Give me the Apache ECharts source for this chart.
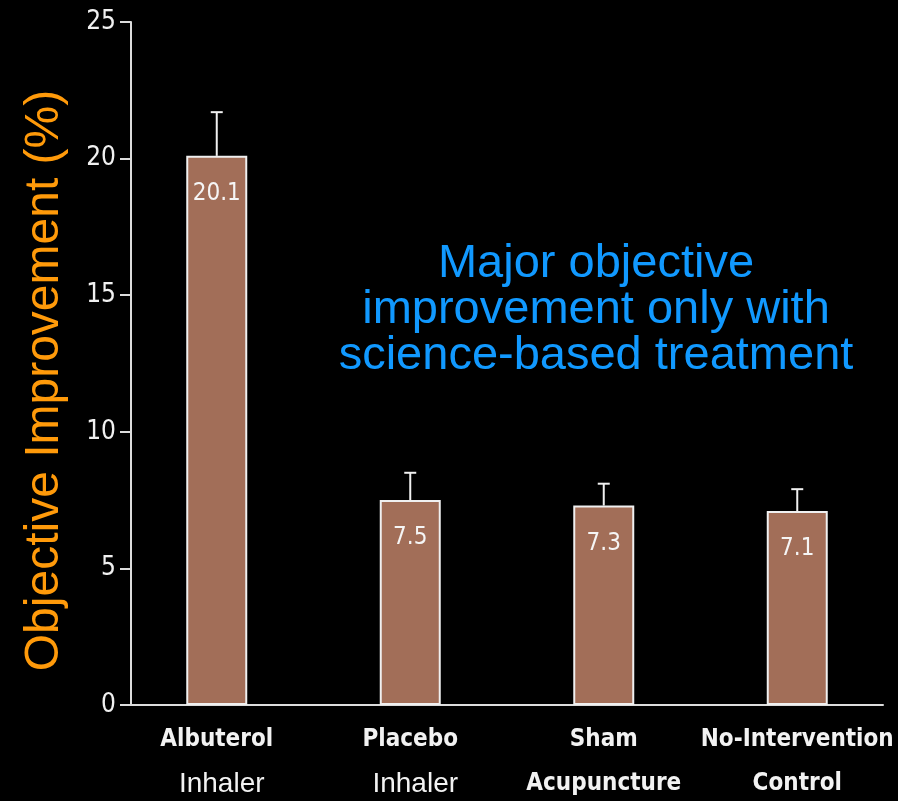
<!DOCTYPE html>
<html>
<head>
<meta charset="utf-8">
<script src="https://cdn.jsdelivr.net/npm/echarts@6/dist/echarts.min.js"></script>
<style>
html,body{margin:0;padding:0;background:#000;}
#chart{width:898px;height:801px;}
</style>
</head>
<body>
<div id="chart"></div>
<script>
// Data
const categoryLine1 = ['Albuterol', 'Placebo', 'Sham', 'No-Intervention'];
const categoryLine2 = ['Inhaler', 'Inhaler', 'Acupuncture', 'Control'];
const line2Style = ['plain', 'plain', 'cond', 'cond'];
const improvement = [20.1, 7.5, 7.3, 7.1];
const errorHigh = [21.7, 8.5, 8.1, 7.9];
const yTicks = [0, 5, 10, 15, 20, 25];

const COND = "'Liberation Sans Narrow', 'DejaVu Sans Condensed', 'Arial Narrow', sans-serif";
const PLAIN = "'Liberation Sans', Arial, sans-serif";

const chart = echarts.init(document.getElementById('chart'));
const categories = categoryLine1.map((c, i) => c + '|' + categoryLine2[i] + '|' + line2Style[i]);

const option = {
  backgroundColor: '#000',
  animation: false,
  grid: [
    { left: 120, right: 4, top: 22, bottom: 96 },
    { left: 131, right: 15, top: 22, bottom: 96 }
  ],
  xAxis: [
    {
      type: 'category', gridIndex: 0, data: categories,
      axisLine: { show: false }, axisTick: { show: false },
      axisLabel: {
        margin: 13,
        interval: 0,
        formatter: function (v) {
          const p = v.split('|');
          return '{a|' + p[0] + '}\n{' + (p[2] === 'plain' ? 'b' : 'c') + '|' + p[1] + '}';
        },
        rich: {
          a: { fontFamily: COND, fontWeight: 'bold', fontSize: 24, color: '#f2f2f2', lineHeight: 44 },
          b: { fontFamily: PLAIN, fontSize: 28, color: '#f2f2f2', lineHeight: 44, padding: [0, 0, 0, 10] },
          c: { fontFamily: COND, fontWeight: 'bold', fontSize: 24, color: '#f2f2f2', lineHeight: 44 }
        }
      }
    },
    {
      type: 'value', gridIndex: 1, min: 0, max: 1,
      axisLine: { show: true, lineStyle: { color: '#dcdcdc', width: 2 } },
      axisTick: { show: false }, axisLabel: { show: false }, splitLine: { show: false }
    }
  ],
  yAxis: [
    {
      type: 'value', gridIndex: 0, min: 0, max: 25, show: false, splitLine: { show: false }
    },
    {
      type: 'value', gridIndex: 1, min: yTicks[0], max: yTicks[yTicks.length - 1], interval: 5,
      axisLine: { show: true, lineStyle: { color: '#dcdcdc', width: 2 } },
      axisTick: { show: true, length: 11, lineStyle: { color: '#dcdcdc', width: 2 } },
      axisLabel: { color: '#f0f0f0', fontFamily: COND, fontSize: 26, margin: 15 },
      splitLine: { show: false },
      name: 'Objective Improvement (%)',
      nameLocation: 'middle',
      nameGap: 62,
      nameTextStyle: { color: '#ff9a0a', fontFamily: PLAIN, fontSize: 48, padding: [0, 34, 0, 0] }
    }
  ],
  series: [
    {
      type: 'bar', xAxisIndex: 0, yAxisIndex: 0,
      data: improvement,
      barWidth: 61,
      itemStyle: { color: '#a26e58', borderColor: '#f0f0f0', borderWidth: 2 },
      label: {
        show: true, position: 'insideTop', distance: 26,
        color: '#f5f5f5', fontFamily: COND, fontSize: 24,
        formatter: p => p.value.toFixed(1)
      },
      z: 2
    },
    {
      type: 'custom', xAxisIndex: 0, yAxisIndex: 0,
      data: improvement.map((v, i) => [i, v, errorHigh[i]]),
      renderItem: function (params, api) {
        const base = api.coord([api.value(0), api.value(1)]);
        const top = api.coord([api.value(0), api.value(2)]);
        const style = { stroke: '#f0f0f0', lineWidth: 2 };
        return {
          type: 'group',
          children: [
            { type: 'line', shape: { x1: base[0], y1: base[1], x2: top[0], y2: top[1] }, style: style },
            { type: 'line', shape: { x1: top[0] - 6, y1: top[1], x2: top[0] + 6, y2: top[1] }, style: style }
          ]
        };
      },
      z: 3
    }
  ],
  graphic: [
    {
      type: 'text',
      x: 596, y: 241,
      style: {
        text: 'Major objective\nimprovement only with\nscience-based treatment',
        fill: '#1199ff', font: '47px ' + PLAIN, align: 'center', verticalAlign: 'top', lineHeight: 46
      }
    }
  ]
};
chart.setOption(option);
</script>
</body>
</html>
